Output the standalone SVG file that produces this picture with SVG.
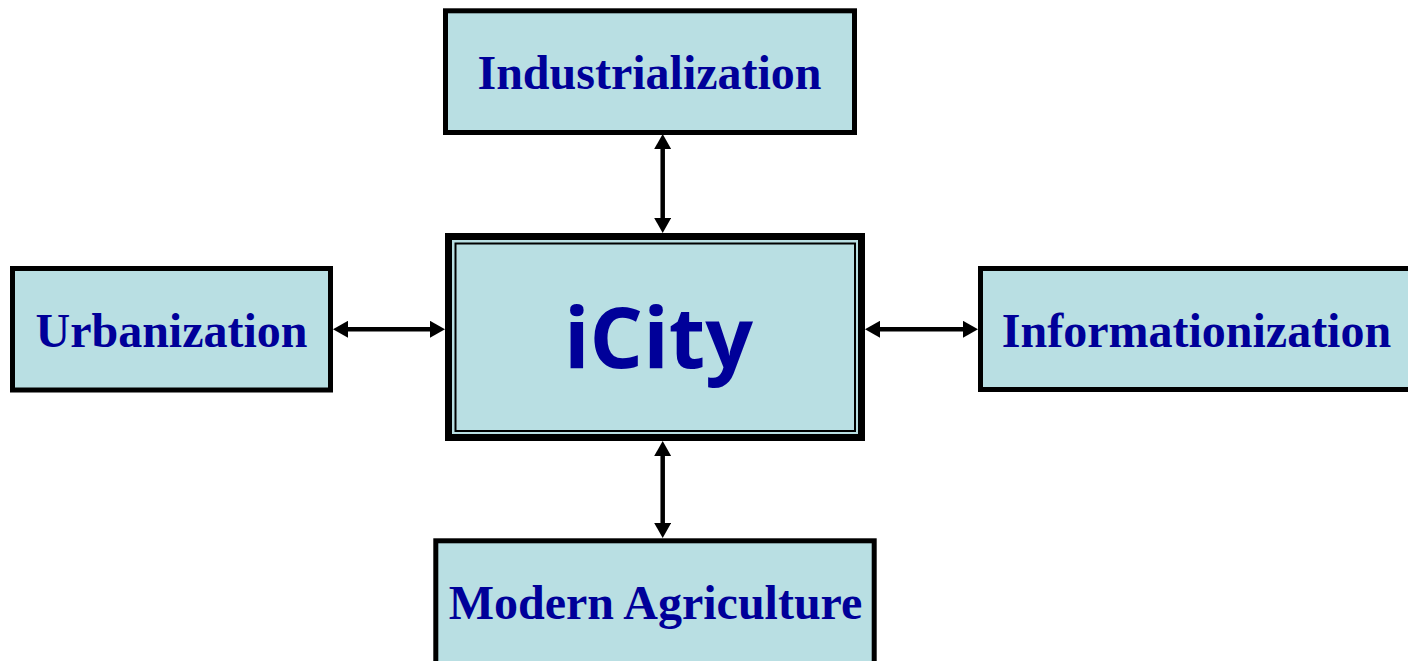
<svg xmlns="http://www.w3.org/2000/svg" width="1408" height="661" viewBox="0 0 1408 661">
<style>
.box{fill:#B9DFE3;stroke:#000;stroke-width:5}
.lbl{font-family:"Liberation Serif","Times New Roman",serif;font-weight:bold;font-size:48px;fill:#000099;text-anchor:middle}
.conn{stroke:#000;stroke-width:4.5;fill:none;marker-start:url(#ah);marker-end:url(#ah)}
</style>
<defs>
<marker id="ah" markerUnits="userSpaceOnUse" markerWidth="17" markerHeight="17" refX="2" refY="8.5" orient="auto-start-reverse" viewBox="0 0 17 17">
<path d="M0,0 L15,8.5 L0,17 z" fill="#000"/>
</marker>
</defs>
<rect width="1408" height="661" fill="#fff"/>
<g id="connectors">
<line class="conn" x1="662.7" y1="147" x2="662.7" y2="220"/>
<line class="conn" x1="662.7" y1="454" x2="662.7" y2="525"/>
<line class="conn" x1="346" y1="329.3" x2="432" y2="329.3"/>
<line class="conn" x1="878" y1="329.3" x2="965" y2="329.3"/>
</g>
<g id="icity">
<rect x="448.5" y="236.5" width="413" height="201" fill="#B9DFE3" stroke="#000" stroke-width="7"/>
<rect x="455.5" y="243.5" width="399.5" height="187.5" fill="none" stroke="#000" stroke-width="2"/>
<text x="658.5" y="368" font-family="'Open Sans','Noto Sans',sans-serif" font-weight="bold" font-size="84" fill="#000099" text-anchor="middle">iCity</text>
</g>
<g id="industrialization">
<rect class="box" x="445.5" y="10.8" width="409" height="121.7"/>
<text class="lbl" x="649.5" y="89">Industrialization</text>
</g>
<g id="urbanization">
<rect class="box" x="12.5" y="268.5" width="318" height="121.5"/>
<text class="lbl" x="171.5" y="347">Urbanization</text>
</g>
<g id="informationization">
<rect class="box" x="980.5" y="268.5" width="440" height="121"/>
<text class="lbl" x="1196.5" y="347">Informationization</text>
</g>
<g id="modern-agriculture">
<rect class="box" x="435.8" y="540.8" width="438.4" height="140"/>
<text class="lbl" x="655.5" y="619">Modern Agriculture</text>
</g>
</svg>
